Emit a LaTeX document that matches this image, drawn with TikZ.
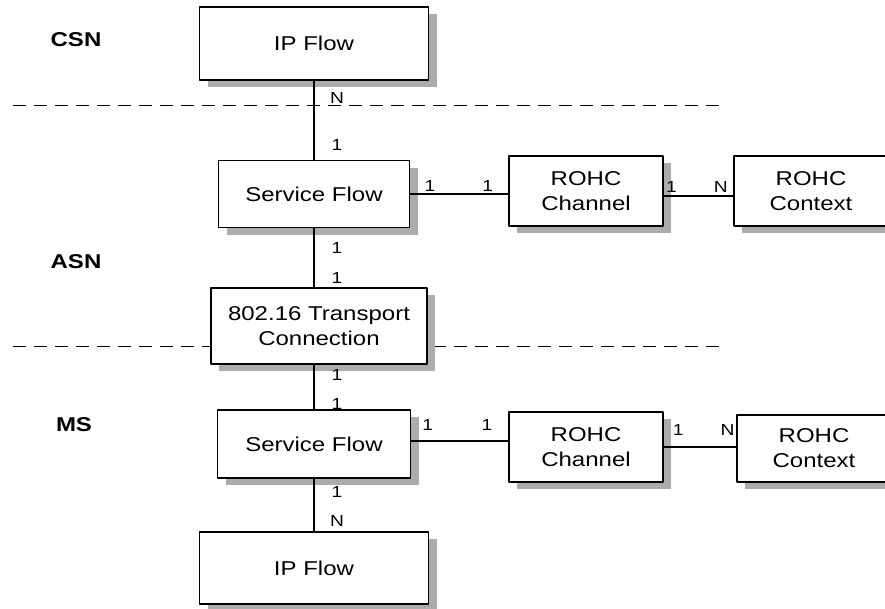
\documentclass[tikz,border=0pt]{standalone}
\usepackage{fontspec}
\setmainfont{Liberation Sans}[FakeStretch=1.2]
\usetikzlibrary{shadows}
\begin{document}
\begin{tikzpicture}[x=1pt, y=-1pt, line join=round,
	box/.style={draw, line width=1.5pt, fill=white, align=center, inner sep=0pt,
		font=\fontsize{20}{25}\selectfont,
		general shadow={fill=gray!65, shadow xshift=8pt, shadow yshift=-7pt}},
	vlab/.style={font=\fontsize{16}{16}\selectfont, inner sep=0pt, xshift=23pt},
	hlab/.style={font=\fontsize{16}{16}\selectfont, inner sep=0pt},
	zone/.style={font=\bfseries\fontsize{20}{20}\selectfont},
	layer/.style={dash pattern=on 13pt off 8pt, line width=1pt}]
	\useasboundingbox (0,0) rectangle (885,608);
	% ranh gioi giua cac mien
	\draw[layer] (13,105) -- (720,105);
	\draw[layer] (13,346) -- (720,346);
	\node[zone] (csn) at (76,40) {CSN};
	\node[zone] (asn) at (76,262) {ASN};
	\node[zone] (ms) at (74,425) {MS};
	% cac khoi
	\node[box, minimum width=229pt, minimum height=73pt] (ipt) at (314,43.5) {IP Flow};
	\node[box, minimum width=191pt, minimum height=67pt] (sft) at (314,194) {Service Flow};
	\node[box, minimum width=154pt, minimum height=70pt] (cht) at (586,191) {ROHC\\Channel};
	\node[box, minimum width=154pt, minimum height=70pt] (ctt) at (811,191) {ROHC\\Context};
	\node[box, minimum width=216pt, minimum height=76pt] (tc) at (319,326) {802.16 Transport\\Connection};
	\node[box, minimum width=193pt, minimum height=68pt] (sfb) at (314,444) {Service Flow};
	\node[box, minimum width=154pt, minimum height=70pt] (chb) at (586,447) {ROHC\\Channel};
	\node[box, minimum width=154pt, minimum height=67pt] (ctb) at (814,448.5) {ROHC\\Context};
	\node[box, minimum width=229pt, minimum height=72pt] (ipb) at (314,568) {IP Flow};
	% lien ket
	\draw[line width=1.1pt] (ipt.south) -- (sft.north)
		node[vlab, pos=.22] {N} node[vlab, pos=.81] {1};
	\draw[line width=1.1pt] (sft.south) -- (sft.south |- tc.north)
		node[vlab, pos=.33] {1} node[vlab, pos=.84] {1};
	\draw[line width=1.1pt] (sft.south |- tc.south) -- (sfb.north)
		node[vlab, pos=.24] {1} node[vlab, pos=.89] {1};
	\draw[line width=1.1pt] (sfb.south) -- (ipb.north)
		node[vlab, pos=.26] {1} node[vlab, pos=.81] {N};
	\draw[line width=1.1pt] (sft.east) -- (sft.east -| cht.west)
		node[hlab, pos=.2, yshift=8pt] {1} node[hlab, pos=.79, yshift=8pt] {1};
	\draw[line width=1.1pt] ([yshift=-5pt]cht.east) -- ([yshift=-5pt]ctt.west)
		node[hlab, pos=.11, yshift=9pt] {1} node[hlab, pos=.82, yshift=9pt] {N};
	\draw[line width=1.1pt] ([yshift=3pt]sfb.east) -- ([yshift=3pt]sfb.east -| chb.west)
		node[hlab, pos=.17, yshift=16pt] {1} node[hlab, pos=.78, yshift=16pt] {1};
	\draw[line width=1.1pt] (chb.east) -- (chb.east -| ctb.west)
		node[hlab, pos=.2, yshift=17pt] {1} node[hlab, pos=.88, yshift=17pt] {N};
\end{tikzpicture}
\end{document}
